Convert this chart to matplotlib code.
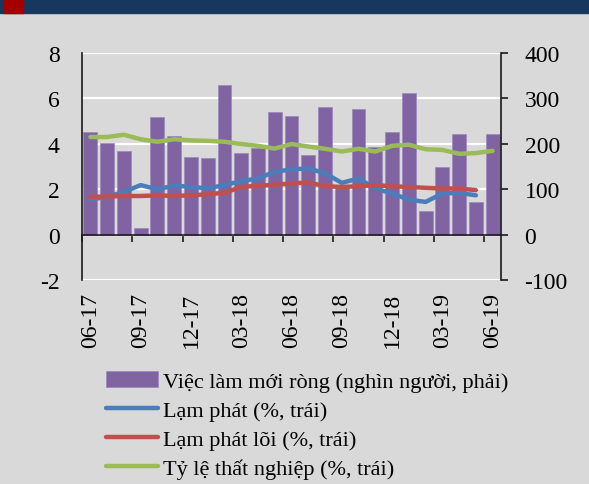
import matplotlib
matplotlib.use("Agg")
import matplotlib.pyplot as plt
from matplotlib.patches import Rectangle

plt.rcParams['font.family'] = ['Liberation Serif', 'DejaVu Serif']
plt.rcParams['axes.unicode_minus'] = False

months = ['06-17', '07-17', '08-17', '09-17', '10-17', '11-17', '12-17',
          '01-18', '02-18', '03-18', '04-18', '05-18', '06-18', '07-18',
          '08-18', '09-18', '10-18', '11-18', '12-18', '01-19', '02-19',
          '03-19', '04-19', '05-19', '06-19']
jobs = [227, 201, 185, 14, 258, 218, 172, 169, 330, 180, 190, 270, 261,
        176, 281, 110, 276, 193, 225, 312, 53, 150, 222, 72, 222]
inflation = [1.55, 1.66, 1.88, 2.18, 1.99, 2.16, 2.10, 2.04, 2.18, 2.36,
             2.47, 2.77, 2.87, 2.92, 2.70, 2.28, 2.47, 2.03, 1.81, 1.54,
             1.44, 1.81, 1.84, 1.73]
core = [1.66, 1.68, 1.70, 1.70, 1.73, 1.70, 1.73, 1.78, 1.84, 2.10, 2.15,
        2.20, 2.25, 2.30, 2.13, 2.10, 2.13, 2.18, 2.13, 2.10, 2.06, 2.03,
        2.03, 1.96]
unemployment = [4.30, 4.30, 4.40, 4.20, 4.09, 4.20, 4.15, 4.13, 4.09, 3.99,
                3.91, 3.79, 3.99, 3.88, 3.78, 3.66, 3.78, 3.66, 3.91, 3.96,
                3.76, 3.73, 3.56, 3.59, 3.69]

labels = ['Việc làm mới ròng (nghìn người, phải)', 'Lạm phát (%, trái)',
          'Lạm phát lõi (%, trái)', 'Tỷ lệ thất nghiệp (%, trái)']

bg = '#d9d9d9'
purple = '#8064a2'
blue = '#4a7ebb'
red = '#c0504d'
green = '#9bbb59'

fig = plt.figure(figsize=(5.89, 4.85), dpi=100, facecolor=bg)

# header strip
fig.patches.append(Rectangle((0, 1 - 13.5 / 485), 1, 13.5 / 485,
                             transform=fig.transFigure, color='#17375e'))
fig.patches.append(Rectangle((4 / 589, 1 - 13.5 / 485), 19 / 589, 13.5 / 485,
                             transform=fig.transFigure, color='#a50000'))

ax = fig.add_axes([82 / 589, 1 - 281 / 485, 419 / 589, 227 / 485])
ax.set_facecolor(bg)
x = list(range(len(months)))
bars = ax.bar(x, jobs, width=0.83, color=purple, edgecolor='#a08cc0',
              linewidth=0.6, zorder=2)
ax.set_ylim(-100, 400)
ax.set_xlim(-0.5, len(months) - 0.5)
ax.set_yticks([-100, 0, 100, 200, 300, 400])
ax.yaxis.grid(True, color='white', linewidth=1.6)
ax.set_axisbelow(True)

axl = ax.twinx()
style = dict(lw=3.2, solid_capstyle='round', solid_joinstyle='round')
l1, = axl.plot(x[:len(inflation)], inflation, color=blue, **style)
l2, = axl.plot(x[:len(core)], core, color=red, **style)
l3, = axl.plot(x, unemployment, color=green, **style)
axl.set_ylim(-2, 8)
axl.set_yticks([-2, 0, 2, 4, 6, 8])

ax.yaxis.tick_right()
axl.yaxis.tick_left()

for s in ['top', 'left']:
    ax.spines[s].set_visible(False)
ax.spines['bottom'].set_position(('data', 0))
ax.spines['bottom'].set_color('#1a1a1a')
ax.spines['right'].set_color('#1a1a1a')
ax.spines['bottom'].set_linewidth(1.2)
ax.spines['right'].set_linewidth(1.2)
for s in ['top', 'right', 'bottom']:
    axl.spines[s].set_visible(False)
axl.spines['left'].set_color('#1a1a1a')
axl.spines['left'].set_linewidth(1.2)

ax.set_xticks(x[::3])
ax.set_xticklabels(months[::3], rotation=90, fontsize=17)
ax.set_xticks([i - 0.5 for i in x[::3]], minor=True)
ax.tick_params(axis='x', which='major', length=0, pad=41)
ax.tick_params(axis='x', which='minor', length=5, width=1.2, direction='out',
               color='#1a1a1a')
ax.tick_params(axis='y', length=5, width=1.2, pad=12, labelsize=17,
               color='#1a1a1a')
axl.tick_params(axis='y', length=0, pad=16, labelsize=17)

fig.legend([bars, l1, l2, l3], labels, loc='upper left',
           bbox_to_anchor=(106 / 589, 1 - 372 / 485), frameon=False,
           fontsize=16, handlelength=2.35, handletextpad=0.2,
           labelspacing=0.38, borderpad=0, borderaxespad=0)

fig.savefig('out.png', dpi=100, facecolor=bg)
